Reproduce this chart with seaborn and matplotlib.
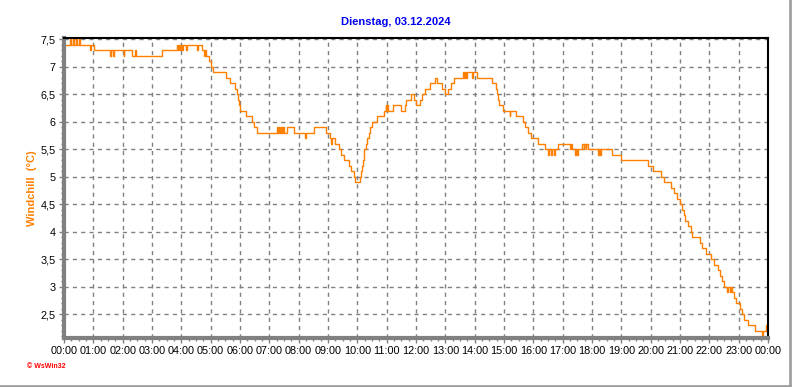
import matplotlib
matplotlib.use("Agg")
import matplotlib.pyplot as plt
from matplotlib.lines import Line2D
from matplotlib.ticker import MultipleLocator
import seaborn as sns
import pandas as pd

# ---- data: step series (minute of day, windchill °C) ----
minutes = [0, 12, 14, 18, 20, 24, 26, 30, 33, 53, 55, 62, 94, 96, 100, 103, 122, 123,
           140, 145, 147, 201, 231, 233, 235, 237, 240, 242, 244, 250, 251, 272, 274,
           282, 287, 289, 291, 297, 300, 304, 331, 340, 350, 353, 355, 357, 360, 372,
           384, 389, 395, 436, 438, 440, 442, 444, 446, 448, 449, 457, 470, 493, 494,
           511, 535, 545, 547, 548, 554, 562, 566, 572, 582, 588, 594, 596, 605, 608,
           610, 612, 613, 614, 617, 620, 623, 626, 630, 640, 654, 658, 659, 661, 662,
           672, 689, 698, 700, 709, 715, 719, 728, 733, 739, 748, 758, 763, 773, 780,
           785, 792, 797, 816, 818, 820, 822, 824, 834, 836, 845, 876, 883, 885, 887,
           890, 898, 912, 913, 925, 938, 943, 949, 956, 970, 984, 991, 993, 996, 999,
           1002, 1005, 1011, 1036, 1037, 1040, 1046, 1048, 1050, 1052, 1060, 1063,
           1064, 1067, 1068, 1072, 1092, 1094, 1096, 1098, 1121, 1139, 1195, 1204,
           1222, 1227, 1241, 1247, 1253, 1260, 1265, 1268, 1271, 1277, 1282, 1284,
           1300, 1306, 1313, 1323, 1330, 1337, 1341, 1345, 1349, 1356, 1358, 1362,
           1364, 1367, 1371, 1375, 1383, 1386, 1390, 1400, 1414, 1427, 1429, 1435, 1440]
windchill = [7.4, 7.5, 7.4, 7.5, 7.4, 7.5, 7.4, 7.5, 7.4, 7.3, 7.4, 7.3, 7.2, 7.3, 7.2, 7.3, 7.2, 7.3,
             7.2, 7.3, 7.2, 7.3, 7.4, 7.3, 7.4, 7.3, 7.4, 7.3, 7.4, 7.3, 7.4, 7.3, 7.4,
             7.3, 7.2, 7.3, 7.2, 7.1, 7.0, 6.9, 6.8, 6.7, 6.6, 6.5, 6.4, 6.3, 6.2, 6.1,
             6.0, 5.9, 5.8, 5.9, 5.8, 5.9, 5.8, 5.9, 5.8, 5.9, 5.8, 5.9, 5.8, 5.7, 5.8,
             5.9, 5.8, 5.7, 5.6, 5.7, 5.6, 5.5, 5.4, 5.3, 5.2, 5.1, 5.0, 4.9, 5.0, 5.1,
             5.2, 5.3, 5.4, 5.5, 5.6, 5.7, 5.8, 5.9, 6.0, 6.1, 6.2, 6.3, 6.2, 6.3, 6.2,
             6.3, 6.2, 6.3, 6.4, 6.5, 6.4, 6.3, 6.4, 6.5, 6.6, 6.7, 6.8, 6.7, 6.6, 6.5,
             6.6, 6.7, 6.8, 6.9, 6.8, 6.9, 6.8, 6.9, 6.8, 6.9, 6.8, 6.7, 6.6, 6.5, 6.4,
             6.3, 6.2, 6.1, 6.2, 6.1, 6.0, 5.9, 5.8, 5.7, 5.6, 5.5, 5.4, 5.5, 5.4, 5.5,
             5.4, 5.5, 5.6, 5.5, 5.6, 5.5, 5.4, 5.5, 5.4, 5.5, 5.6, 5.5,
             5.6, 5.5, 5.6, 5.5, 5.4, 5.5, 5.4, 5.5, 5.4, 5.3, 5.2, 5.1,
             5.0, 4.9, 4.8, 4.7, 4.6, 4.5, 4.4, 4.3, 4.2, 4.1, 4.0, 3.9,
             3.8, 3.7, 3.6, 3.5, 3.4, 3.3, 3.2, 3.1, 3.0, 2.9, 3.0, 2.9,
             3.0, 2.9, 2.8, 2.7, 2.6, 2.5, 2.4, 2.3, 2.2, 2.1, 2.2, 2.3, 2.3]

title = "Dienstag, 03.12.2024"
y_label = "Windchill  (°C)"
y_ticks = [2.5, 3, 3.5, 4, 4.5, 5, 5.5, 6, 6.5, 7, 7.5]
x_tick_labels = [f"{h % 24:02d}:00" for h in range(25)]

df = pd.DataFrame({"minute": minutes, "windchill": windchill})

sns.set_theme(style="white")
plt.rcParams["font.family"] = ["Liberation Sans", "DejaVu Sans"]

W, H = 792, 387
fig = plt.figure(figsize=(W / 100, H / 100), dpi=100)
fig.patch.set_facecolor("white")
ax = fig.add_axes([64 / W, 1 - 337.5 / H, (768 - 64) / W, (337.5 - 38.3) / H])

sns.lineplot(data=df, x="minute", y="windchill", ax=ax, color="#FF8000",
             linewidth=1.0, drawstyle="steps-post", estimator=None, sort=False)

ax.set_xlim(0, 1440)
ax.set_ylim(2.076, 7.513)

ax.set_xticks(range(0, 1441, 60))
ax.set_xticklabels(x_tick_labels)
ax.xaxis.set_minor_locator(MultipleLocator(15))
ax.set_yticks(y_ticks)
ax.set_yticklabels([("%g" % v).replace(".", ",") for v in y_ticks])
ax.yaxis.set_minor_locator(MultipleLocator(0.1))

ax.tick_params(axis="both", which="major", direction="out", length=3.5, width=1,
               color="#808080", labelsize=7.8, labelcolor="black", pad=2.5)
ax.tick_params(axis="both", which="minor", direction="out", length=2, width=1,
               color="#808080")
ax.tick_params(axis="x", which="both", bottom=True, top=False)
ax.tick_params(axis="y", which="both", left=True, right=False)

ax.grid(True, which="major", color="#808080", linestyle=(0, (3, 3)), linewidth=1)
ax.set_axisbelow(True)

for side in ("left", "bottom"):
    ax.spines[side].set_color("#808080")
    ax.spines[side].set_linewidth(3)
for side in ("top", "right"):
    ax.spines[side].set_color("black")
    ax.spines[side].set_linewidth(1.5)
    ax.spines[side].set_visible(True)

ax.set_xlabel("")
ax.set_ylabel("")

fig.text(396 / W, 1 - 22 / H, title, ha="center", va="center", color="#0000F0",
         fontsize=8, fontweight="bold")
fig.text(32 / W, 1 - 188 / H, y_label, rotation=90, ha="center", va="center",
         color="#FF8000", fontsize=8, fontweight="bold")
fig.text(27 / W, 1 - 367 / H, "© WsWin32", ha="left", va="center", color="#FF0000",
         fontsize=5, fontweight="bold")

fig.add_artist(Line2D([790 / W, 790 / W], [0, 1], color="#A0A0A0", linewidth=2,
                      transform=fig.transFigure))
fig.add_artist(Line2D([0, 1], [1.5 / H, 1.5 / H], color="#A0A0A0", linewidth=2,
                      transform=fig.transFigure))

fig.savefig("out.png", dpi=100, facecolor="white")
